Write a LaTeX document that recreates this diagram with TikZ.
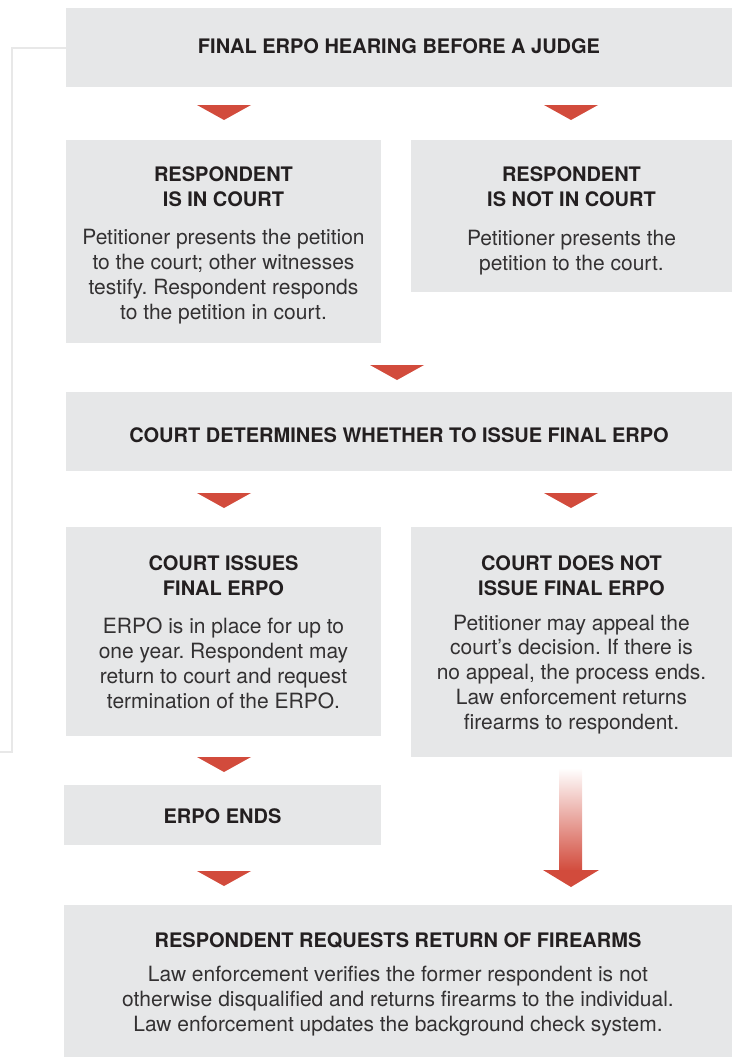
\documentclass[tikz,border=0pt]{standalone}
\usepackage{fontspec}
\setmainfont{TeX Gyre Heros}
\frenchspacing
\definecolor{boxgray}{HTML}{E6E7E8}
\definecolor{ered}{HTML}{D24B3C}
\definecolor{ink}{HTML}{231F20}
\definecolor{bodyink}{HTML}{333132}
\definecolor{linegray}{HTML}{E8E8E8}
\tikzset{
  box/.style={fill=boxgray, draw=none, inner sep=0pt, anchor=north west},
  ttl/.style={font=\fontsize{20}{25}\selectfont\bfseries, text=ink, align=center, anchor=base, inner sep=0pt},
  bodytext/.style={font=\fontsize{21}{24.7}\selectfont, text=bodyink, align=center, anchor=base, inner sep=0pt},
  downtri/.pic={\fill[ered] (-27,0) -- (27,0) -- (0,15) -- cycle;},
  feedback/.style={draw=linegray, line width=2pt}
}
\begin{document}
\begin{tikzpicture}[x=1pt,y=-1pt]
\useasboundingbox (0,0) rectangle (732,1057);
% boxes
\node[box, minimum width=666pt, minimum height=79pt] (hear) at (66,8) {};
\node[box, minimum width=315pt, minimum height=203pt] (incourt) at (66,140) {};
\node[box, minimum width=321pt, minimum height=152pt] (notcourt) at (411,140) {};
\node[box, minimum width=666pt, minimum height=79pt] (determ) at (66,392) {};
\node[box, minimum width=315pt, minimum height=209pt] (issue) at (66,527) {};
\node[box, minimum width=321pt, minimum height=230pt] (noissue) at (411,527) {};
\node[box, minimum width=317pt, minimum height=60pt] (ends) at (64,785) {};
\node[box, minimum width=668pt, minimum height=152pt] (request) at (64,905) {};
% feedback line
\coordinate (off) at (0,752);
\draw[feedback] (hear.west) -| (12,752) -- (off);
% triangles
\pic at (224,105) {downtri};
\pic at (571,105) {downtri};
\pic at (397,365) {downtri};
\pic at (224,493) {downtri};
\pic at (571,493) {downtri};
\pic at (224,757) {downtri};
\pic at (224,871) {downtri};
% gradient arrow
\shade[top color=white, bottom color=ered] (559,768) rectangle (582,871);
\fill[ered] (543,870) -- (599,870) -- (571,887) -- cycle;
% texts (anchor base = baseline of the last line)
\node[ttl] (hearT) at (399,54) {FINAL ERPO HEARING BEFORE A JUDGE};
\node[ttl] (incourtT) at (223.5,206) {RESPONDENT\\IS IN COURT};
\node[bodytext] (incourtB) at (223.5,319) {Petitioner presents the petition\\to the court; other witnesses\\testify. Respondent responds\\to the petition in court.};
\node[ttl] (notcourtT) at (571.5,206) {RESPONDENT\\IS NOT IN COURT};
\node[bodytext] (notcourtB) at (571.5,270) {Petitioner presents the\\petition to the court.};
\node[ttl] (determT) at (399,442) {COURT DETERMINES WHETHER TO ISSUE FINAL ERPO};
\node[ttl] (issueT) at (223.5,595) {COURT ISSUES\\FINAL ERPO};
\node[bodytext] (issueB) at (223.5,708) {ERPO is in place for up to\\one year. Respondent may\\return to court and request\\termination of the ERPO.};
\node[ttl] (noissueT) at (571.5,595) {COURT DOES NOT\\ISSUE FINAL ERPO};
\node[bodytext] (noissueB) at (571.5,729) {Petitioner may appeal the\\court’s decision. If there is\\no appeal, the process ends.\\Law enforcement returns\\firearms to respondent.};
\node[ttl] (endsT) at (222.5,823) {ERPO ENDS};
\node[ttl] (requestT) at (398,947) {RESPONDENT REQUESTS RETURN OF FIREARMS};
\node[bodytext] (requestB) at (398,1031) {Law enforcement verifies the former respondent is not\\otherwise disqualified and returns firearms to the individual.\\Law enforcement updates the background check system.};
\end{tikzpicture}
\end{document}
